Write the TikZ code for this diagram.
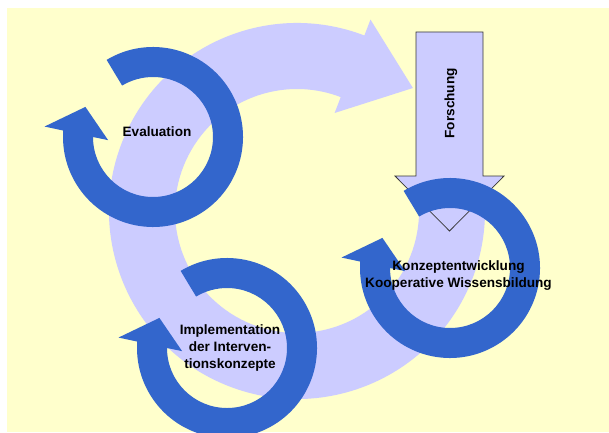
\documentclass[tikz,border=0pt]{standalone}
\usepackage{fontspec}
\setmainfont{Liberation Sans}
\usepackage{tikz}
\definecolor{gelb}{HTML}{FFFFCC}
\definecolor{lila}{HTML}{CCCCFF}
\definecolor{blau}{HTML}{3366CC}
\definecolor{rand}{HTML}{383838}
\newcommand{\kreispfeil}[1]{\fill[blau,shift={(#1)}] (121:90) arc[start angle=121,end angle=-184.1,radius=90] -- (174.5:109) -- (156:74) -- (184:45) -- (180:60) arc[start angle=-180,end angle=121,radius=60] -- cycle;}

\begin{document}
\begin{tikzpicture}[x=1pt,y=1pt,font=\fontsize{13.6}{16.6}\selectfont\bfseries]
		\useasboundingbox (0,0) rectangle (609,432);
		\clip (0,0) rectangle (609,432);
		\fill[gelb] (7,0) rectangle (609,424);
		
		% grosser Kreislauf
		\coordinate (m) at (297,221);
		\fill[lila,shift={(m)}] (69:188) arc[start angle=69,end angle=375,radius=188] -- (375:122) arc[start angle=375,end angle=69,radius=122] -- (69:105) -- (46.7:169) -- (69:205) -- cycle;
		
		% Forschung
		\draw[rand,fill=lila,line width=0.75pt] (416,400) -- (483,400) -- (483,256) -- (504,256) -- (449.5,201) -- (395,256) -- (416,256) -- cycle;
		\node[rotate=90](forschung) at (451,328.7) {Forschung};
		
		\coordinate (ev) at (153,295);
		\coordinate (im) at (227,84);
		\coordinate (ko) at (450,164);
		\kreispfeil{ev}
		\kreispfeil{im}
		\kreispfeil{ko}
		
		\node(evaluation) at (157,300) {Evaluation};
		\node[align=center](implementation) at (230,84) {Implementation\\der Interven-\\tionskonzepte};
		\node[align=center](konzept) at (458.5,156.3) {Konzeptentwicklung\\Kooperative Wissensbildung};
	\end{tikzpicture}
\end{document}
